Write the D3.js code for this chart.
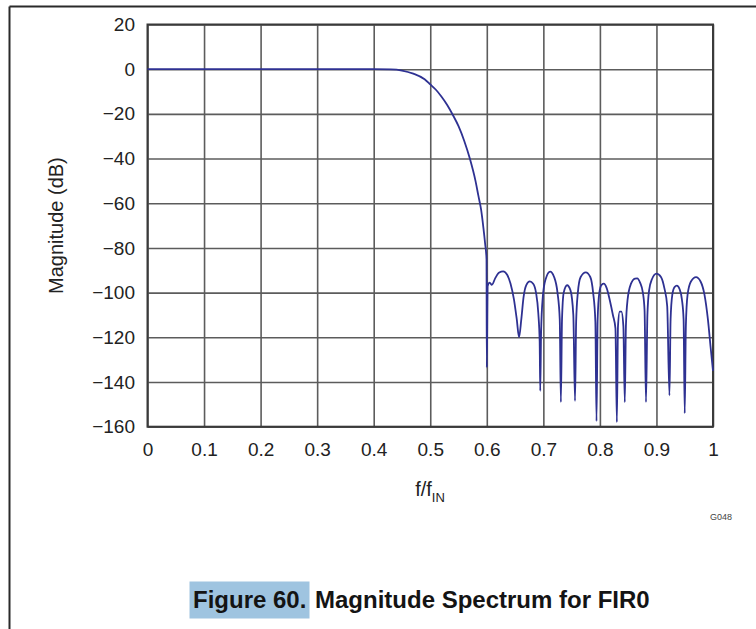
<!DOCTYPE html>
<html lang="en">
<head>
  <title>Magnitude Spectrum for FIR0</title>
  <meta charset="utf-8" />
  <script src="https://cdnjs.cloudflare.com/ajax/libs/d3/7.8.5/d3.min.js"></script>
  <style>
    body { margin: 0; background: #fff; }
    svg { display: block; font-family: "Liberation Sans", Arial, sans-serif; }
  </style>
</head>
<body>
<svg id="chart" width="756" height="629"></svg>
<script>
  // ticks
  const xTicks = [0, 0.1, 0.2, 0.3, 0.4, 0.5, 0.6, 0.7, 0.8, 0.9, 1];
  const xTickLabels = ["0", "0.1", "0.2", "0.3", "0.4", "0.5", "0.6", "0.7", "0.8", "0.9", "1"];
  const yTicks = [20, 0, -20, -40, -60, -80, -100, -120, -140, -160];

  // passband (flat 0 dB)
  const passFreq = [0, 0.1, 0.2, 0.3, 0.4, 0.43];
  const passDb   = [0, 0, 0, 0, 0, -0.1];

  // transition band
  const transFreq = [0.45, 0.47, 0.49, 0.50, 0.51, 0.52, 0.53, 0.54, 0.55, 0.56, 0.57, 0.58, 0.585, 0.59, 0.594, 0.597, 0.5995];
  const transDb   = [-0.6, -2.0, -4.5, -6.8, -9.2, -12.3, -16, -20.5, -25.5, -32, -40, -50, -56.5, -63, -71, -78, -85];

  // stopband lobes and nulls
  const stopFreq = [0.6, 0.6015, 0.605, 0.609, 0.615, 0.622, 0.629, 0.636, 0.642, 0.648, 0.653, 0.657,
    0.661, 0.665, 0.67, 0.676, 0.682, 0.687, 0.691, 0.6935, 0.6945,
    0.696, 0.699, 0.704, 0.712, 0.719, 0.725, 0.729, 0.731,
    0.733, 0.736, 0.742, 0.748, 0.753, 0.756,
    0.758, 0.761, 0.766, 0.775, 0.783, 0.788, 0.792, 0.794,
    0.796, 0.799, 0.803, 0.807, 0.812, 0.818, 0.823, 0.8275, 0.83,
    0.832, 0.835, 0.838, 0.8415, 0.844,
    0.846, 0.849, 0.855, 0.862, 0.866, 0.871, 0.876, 0.879, 0.8815,
    0.884, 0.887, 0.892, 0.9, 0.908, 0.914, 0.919, 0.923,
    0.925, 0.928, 0.932, 0.936, 0.941, 0.945, 0.948, 0.95,
    0.952, 0.955, 0.961, 0.97, 0.978, 0.985, 0.991, 0.996, 1.0];
  const stopDb = [-133.5, -97, -95.5, -96.5, -93.5, -91, -90.5, -92, -96, -103, -112, -120,
    -112, -102, -96.5, -95, -96, -100, -109, -122, -144,
    -118, -102, -94, -90.6, -93, -100, -112, -149,
    -112, -100, -96.7, -99, -110, -148.5,
    -113, -100, -93, -90.9, -93, -100, -113, -157.5,
    -112, -100, -96.5, -96, -98, -104, -110, -116, -158,
    -115, -108.5, -108.5, -115, -149,
    -115, -103, -96, -93.7, -93.6, -95.5, -100, -108, -149,
    -110, -99, -94, -91.5, -93, -98, -106, -146,
    -112, -101, -97.5, -96.9, -98.5, -103, -112, -154,
    -115, -101, -95, -93.1, -95, -101, -112, -125, -135];

  const freq = passFreq.concat(transFreq, stopFreq);
  const magDb = passDb.concat(transDb, stopDb);
  const data = freq.map((f, i) => ({ f: f, db: magDb[i] }));

  const svg = d3.select("#chart");
  const margin = { top: 24.5, left: 147.5 };
  const width = 565.5;
  const height = 402.2;

  // page frame
  svg.append("line").attr("x1", 9.5).attr("y1", 6.5).attr("x2", 756).attr("y2", 6.5)
    .attr("stroke", "#2a2a2a").attr("stroke-width", 2);
  svg.append("line").attr("x1", 9.5).attr("y1", 6.5).attr("x2", 9.5).attr("y2", 629)
    .attr("stroke", "#2a2a2a").attr("stroke-width", 2);

  const g = svg.append("g")
    .attr("transform", "translate(" + margin.left + "," + margin.top + ")");

  const x = d3.scaleLinear().domain([0, 1]).range([0, width]);
  const y = d3.scaleLinear().domain([-160, 20]).range([height, 0]);

  // y grid + labels
  const yAxis = g.append("g")
    .call(d3.axisLeft(y).tickValues(yTicks).tickSize(-width).tickPadding(12.5));
  // x grid + labels
  const xAxis = g.append("g")
    .attr("transform", "translate(0," + height + ")")
    .call(d3.axisBottom(x).tickValues(xTicks).tickSize(-height).tickPadding(16)
      .tickFormat((d, i) => xTickLabels[i]));

  [xAxis, yAxis].forEach(function(a) {
    a.select(".domain").remove();
    a.selectAll(".tick line").attr("stroke", "#5c5c5c").attr("stroke-width", 1.6);
    a.selectAll(".tick text").attr("fill", "#222").style("font-size", "19px");
  });

  g.append("rect")
    .attr("width", width).attr("height", height)
    .attr("fill", "none").attr("stroke", "#3a3a3a").attr("stroke-width", 2);

  const line = d3.line()
    .x(d => x(d.f))
    .y(d => y(d.db))
    .curve(d3.curveMonotoneX);

  g.append("path")
    .datum(data)
    .attr("d", line)
    .attr("fill", "none")
    .attr("stroke", "#2e3192")
    .attr("stroke-width", 1.8)
    .attr("stroke-linejoin", "round");

  // axis titles
  svg.append("text")
    .attr("transform", "translate(63," + (margin.top + height / 2) + ") rotate(-90)")
    .attr("text-anchor", "middle")
    .attr("fill", "#222")
    .style("font-size", "20px")
    .text("Magnitude (dB)");

  const xt = svg.append("text")
    .attr("x", 430).attr("y", 496)
    .attr("text-anchor", "middle")
    .attr("fill", "#222")
    .style("font-size", "20px");
  xt.append("tspan").text("f/f");
  xt.append("tspan").attr("dy", 6).style("font-size", "13px").text("IN");

  svg.append("text")
    .attr("x", 721).attr("y", 520)
    .attr("text-anchor", "middle")
    .attr("fill", "#444")
    .style("font-size", "9px")
    .text("G048");

  // caption
  svg.append("rect")
    .attr("x", 189.5).attr("y", 581.5).attr("width", 120).attr("height", 37)
    .attr("fill", "#9fc4e0");
  const cap = svg.append("text")
    .attr("x", 193).attr("y", 608)
    .attr("fill", "#141414")
    .style("font-size", "24px")
    .style("font-weight", "bold");
  cap.append("tspan").text("Figure 60.");
  cap.append("tspan").attr("x", 315).text("Magnitude Spectrum for FIR0");
</script>
</body>
</html>
